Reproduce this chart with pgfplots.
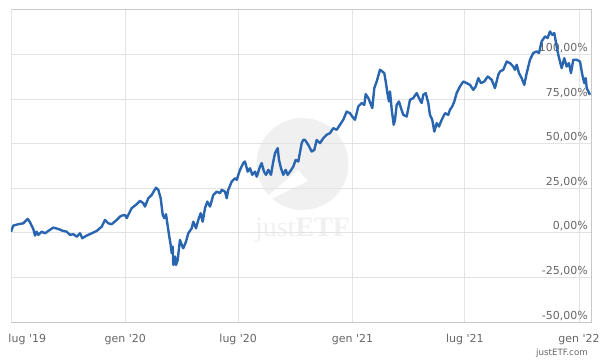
\documentclass[border=0pt]{standalone}
\usepackage{fontspec}
\setmainfont{DejaVu Sans}
\newfontfamily\wmfont{Liberation Serif}
\usepackage{pgfplots}
\pgfplotsset{compat=1.18}
\definecolor{lineblue}{HTML}{2A66B0}
\definecolor{gridgray}{HTML}{E3E3E3}
\definecolor{framegray}{HTML}{C8C8C8}
\definecolor{labelgray}{HTML}{666666}
\definecolor{wmgray}{HTML}{F0F0F0}
\newcommand{\q}{\textquotesingle}
\begin{document}
\begin{tikzpicture}
\path (0,0) rectangle (600bp,360bp);
% watermark
\fill[wmgray] (302.5bp,196bp) circle (46bp);
\fill[white] (255bp,153bp) -- (298bp,190bp) -- (308bp,179bp) -- cycle;
\node[anchor=base, inner sep=0pt, text=wmgray] at (302.5bp,123bp)
  {\fontsize{28bp}{30bp}\selectfont\wmfont just\textbf{ETF}};
\begin{axis}[
  name=ax,
  at={(11bp,38bp)}, anchor=south west,
  scale only axis, width=580bp, height=313bp,
  xmin=0, xmax=934.3, ymin=-50, ymax=125.7,
  axis line style={draw=framegray, line width=0.8bp},
  major tick length=0pt,
  grid=major,
  major grid style={draw=gridgray, line width=0.9bp},
  xtick={184,366,550,731,915},
  xticklabels={gen \q20, lug \q20, gen \q21, lug \q21, gen \q22},
  extra x ticks={0},
  extra x tick labels={lug \q19},
  extra x tick style={xticklabel style={anchor=base west, xshift=-2.7bp}},
  xticklabel style={anchor=base, inner sep=0pt, yshift=-20bp,
    font=\fontsize{11bp}{13bp}\selectfont, text=labelgray},
  ytick={-50,-25,0,25,50,75,100},
  yticklabels={{-50,00\%},{-25,00\%},{0,00\%},{25,00\%},{50,00\%},{75,00\%},{100,00\%}},
  yticklabel pos=right,
  yticklabel style={anchor=base east, inner sep=0pt, xshift=-3bp, yshift=3bp,
    font=\fontsize{11bp}{13bp}\selectfont, text=labelgray},
]
\addplot[lineblue, line width=2.4bp, line join=round] coordinates {
(0,0.7) (3.7,4.1) (11.8,4.9) (19.8,5.4) (26.9,7.9) (30.6,6.0) (35.9,2.2) (38.7,-1.5)
(41.4,0.7) (44.0,-1.1) (49.5,0.7) (54.8,-0.2) (60.1,1.1) (68.1,3.0) (76.2,2.2) (84.2,1.1)
(89.7,0.7) (95.0,-1.1) (100.4,-0.7) (105.8,-2.1) (111.1,-0.2) (114.9,-3.0) (121.9,-1.5)
(130.0,-0.2) (138.0,1.1) (146.1,3.5) (151.4,7.3) (156.7,5.4) (162.2,4.9) (170.3,7.3)
(175.6,9.2) (178.3,9.7) (183.6,10.1) (186.4,8.3) (194.4,13.9) (202.5,16.1) (207.8,18.0)
(213.1,16.7) (215.8,14.8) (221.2,19.5) (226.6,21.3) (233.6,25.4) (237.3,24.2) (241.1,19.5)
(244.4,10.1) (246.9,8.3) (249.7,10.5) (251.8,5.4) (255.0,-2.1) (257.2,-6.7) (258.9,-11.4)
(260.5,-7.7) (261.4,-18.0) (262.6,-14.0) (264.2,-13.3) (265.8,-18.0) (268.5,-15.2)
(272.2,-3.9) (275.0,-6.7) (277.5,-8.6) (281.9,-4.9) (285.6,-0.2) (291.1,2.6) (293.6,6.3)
(298.0,2.6) (301.7,7.3) (305.6,11.1) (308.8,6.3) (312.5,13.9) (316.2,17.6) (320.6,14.8)
(325.9,21.3) (331.4,23.2) (336.7,22.3) (339.4,24.2) (344.7,23.2) (347.5,19.5) (350.0,24.2)
(355.5,28.8) (360.8,30.7) (363.6,29.8) (368.9,35.4) (374.2,39.2) (376.9,40.1) (381.3,34.4)
(385.0,36.3) (388.7,32.6) (393.0,34.4) (395.8,31.6) (401.1,37.2) (403.8,39.2) (407.5,34.4)
(410.8,32.6) (414.5,35.4) (418.8,32.6) (422.5,40.1) (425.3,44.8) (429.6,47.6) (431.7,41.0)
(434.9,36.3) (438.6,32.6) (442.5,35.4) (445.7,32.6) (449.4,34.4) (454.7,37.2) (458.6,41.0)
(462.8,40.1) (468.3,50.4) (470.8,52.2) (473.6,52.2) (478.9,49.4) (484.4,45.7) (488.6,46.6)
(492.4,52.2) (497.7,50.4) (503.1,53.2) (508.5,55.1) (513.8,56.0) (519.1,58.8) (524.6,57.9)
(529.9,60.7) (535.2,63.5) (540.7,68.1) (546.0,67.2) (549.8,65.3) (554.1,63.5) (559.5,71.0)
(564.9,72.9) (569.1,71.9) (571.4,77.9) (575.6,75.7) (580.0,71.9) (582.0,70.1) (585.2,81.3)
(589.1,85.0) (594.4,91.6) (598.1,90.6) (601.3,89.7) (603.6,85.0) (606.8,77.5) (608.9,73.8)
(610.5,79.4) (613.3,69.1) (616.5,60.7) (618.6,63.5) (621.3,71.9) (625.0,73.8) (628.2,70.1)
(631.9,66.3) (637.4,65.3) (642.7,74.7) (648.0,75.7) (653.5,78.5) (657.2,75.7) (661.5,72.9)
(664.1,77.5) (668.0,78.5) (672.2,72.9) (674.9,66.3) (678.6,63.5) (681.9,56.9) (685.7,61.6)
(689.4,59.7) (693.8,63.5) (699.1,67.2) (704.4,66.3) (707.1,69.1) (710.8,71.0) (714.1,73.8)
(717.9,78.5) (723.2,82.2) (728.6,85.0) (734.0,84.1) (739.4,83.1) (744.7,80.3) (748.6,82.2)
(752.8,86.9) (757.1,84.1) (762.4,85.0) (767.9,87.8) (774.3,86.0) (779.6,81.3) (785.0,88.8)
(787.7,90.6) (793.0,91.6) (798.5,96.2) (803.8,95.3) (809.1,93.4) (811.8,91.6) (814.6,94.4)
(818.3,89.7) (822.6,86.9) (826.8,83.1) (830.7,89.7) (836.0,97.2) (841.3,101.0) (846.8,101.9)
(850.5,101.0) (854.8,107.5) (860.2,110.3) (864.5,109.4) (868.2,113.1) (871.9,111.2)
(875.2,112.2) (879.0,104.7) (881.6,100.0) (884.3,96.2) (887.1,92.5) (891.2,98.1) (895.1,93.4)
(898.8,95.3) (902.0,89.7) (905.8,97.2) (911.2,97.2) (916.6,96.2) (920.3,88.8) (923.5,84.1)
(925.8,86.9) (927.4,81.3) (930.0,79.4) (932.7,77.5)
};
\end{axis}
\node[anchor=base east, inner sep=0pt, text=labelgray] at (588bp,5bp)
  {\fontsize{8.7bp}{10bp}\selectfont justETF.com};
\end{tikzpicture}
\end{document}
